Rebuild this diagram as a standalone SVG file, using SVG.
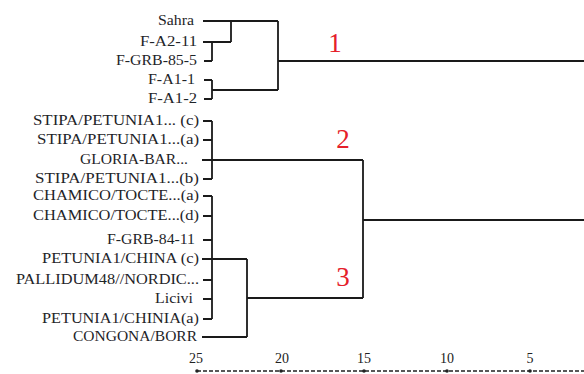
<svg xmlns="http://www.w3.org/2000/svg" width="584" height="374" viewBox="0 0 584 374">
<style>
.lb{font-family:"Liberation Serif","Times New Roman",serif;font-size:14px;fill:#1e2428;text-anchor:end}
.ax{font-family:"Liberation Serif","Times New Roman",serif;font-size:14px;fill:#222;text-anchor:middle}
.cl{font-family:"Liberation Serif","Times New Roman",serif;font-size:27px;fill:#e5202a;text-anchor:middle}
.ln{fill:none;stroke:#1a1a1a;stroke-width:1.8}
</style>
<rect width="584" height="374" fill="#fff"/>
<g id="leaves">
<g id="n-sahra"><text class="lb" x="194" y="25" textLength="36" lengthAdjust="spacingAndGlyphs">Sahra</text></g>
<g id="n-fa211"><text class="lb" x="197" y="46" textLength="57" lengthAdjust="spacingAndGlyphs">F-A2-11</text></g>
<g id="n-fgrb855"><text class="lb" x="197" y="65" textLength="81" lengthAdjust="spacingAndGlyphs">F-GRB-85-5</text></g>
<g id="n-fa11"><text class="lb" x="195" y="84" textLength="47" lengthAdjust="spacingAndGlyphs">F-A1-1</text></g>
<g id="n-fa12"><text class="lb" x="197" y="103" textLength="49" lengthAdjust="spacingAndGlyphs">F-A1-2</text></g>
<g id="n-stipac"><text class="lb" x="199" y="125" textLength="166" lengthAdjust="spacingAndGlyphs">STIPA/PETUNIA1... (c)</text></g>
<g id="n-stipaa"><text class="lb" x="199" y="144" textLength="162" lengthAdjust="spacingAndGlyphs">STIPA/PETUNIA1...(a)</text></g>
<g id="n-gloria"><text class="lb" x="188" y="164" textLength="108" lengthAdjust="spacingAndGlyphs">GLORIA-BAR...</text></g>
<g id="n-stipab"><text class="lb" x="199" y="183" textLength="164" lengthAdjust="spacingAndGlyphs">STIPA/PETUNIA1...(b)</text></g>
<g id="n-chamicoa"><text class="lb" x="199" y="200" textLength="166" lengthAdjust="spacingAndGlyphs">CHAMICO/TOCTE...(a)</text></g>
<g id="n-chamicod"><text class="lb" x="199" y="220" textLength="166" lengthAdjust="spacingAndGlyphs">CHAMICO/TOCTE...(d)</text></g>
<g id="n-fgrb8411"><text class="lb" x="195" y="244" textLength="88" lengthAdjust="spacingAndGlyphs">F-GRB-84-11</text></g>
<g id="n-petuniac"><text class="lb" x="199" y="263" textLength="157" lengthAdjust="spacingAndGlyphs">PETUNIA1/CHINA (c)</text></g>
<g id="n-pallidum"><text class="lb" x="199" y="284" textLength="183" lengthAdjust="spacingAndGlyphs">PALLIDUM48//NORDIC...</text></g>
<g id="n-licivi"><text class="lb" x="193" y="303" textLength="38" lengthAdjust="spacingAndGlyphs">Licivi</text></g>
<g id="n-petuniaa"><text class="lb" x="199" y="323" textLength="157" lengthAdjust="spacingAndGlyphs">PETUNIA1/CHINIA(a)</text></g>
<g id="n-congona"><text class="lb" x="197" y="341" textLength="124" lengthAdjust="spacingAndGlyphs">CONGONA/BORR</text></g>
</g>
<g id="connectors" class="ln">
<path d="M203,21H278 M203,42H231 M231,21V42 M204,61H212 M212,42V61 M204,80H212 M204,99H212 M212,80V99 M212,90H278 M278,21V90 M278,61H584"/>
<path d="M203,121H212 M203,140H212 M203,179H212 M212,121V179 M202,160H363 M363,160V298 M363,220H584"/>
<path d="M203,196H212 M203,216H212 M203,240H212 M203,280H212 M203,299H212 M203,319H212 M212,196V319 M202,259H247 M202,337H247 M247,259V337 M247,298H363"/>
</g>
<g id="cluster-labels">
<text class="cl" x="335" y="52">1</text>
<text class="cl" x="343" y="148">2</text>
<text class="cl" x="343" y="286">3</text>
</g>
<g id="axis">
<text class="ax" x="196" y="363">25</text>
<text class="ax" x="282" y="363">20</text>
<text class="ax" x="364" y="363">15</text>
<text class="ax" x="447" y="363">10</text>
<text class="ax" x="530" y="363">5</text>
<line x1="197" y1="371" x2="584" y2="371" stroke="#222" stroke-width="1.5" stroke-dasharray="4,2"/>
<g fill="#222">
<circle cx="197" cy="371" r="1.8"/><circle cx="281" cy="371" r="1.8"/><circle cx="364" cy="371" r="1.8"/><circle cx="447" cy="371" r="1.8"/><circle cx="530" cy="371" r="1.8"/>
</g>
</g>
</svg>
